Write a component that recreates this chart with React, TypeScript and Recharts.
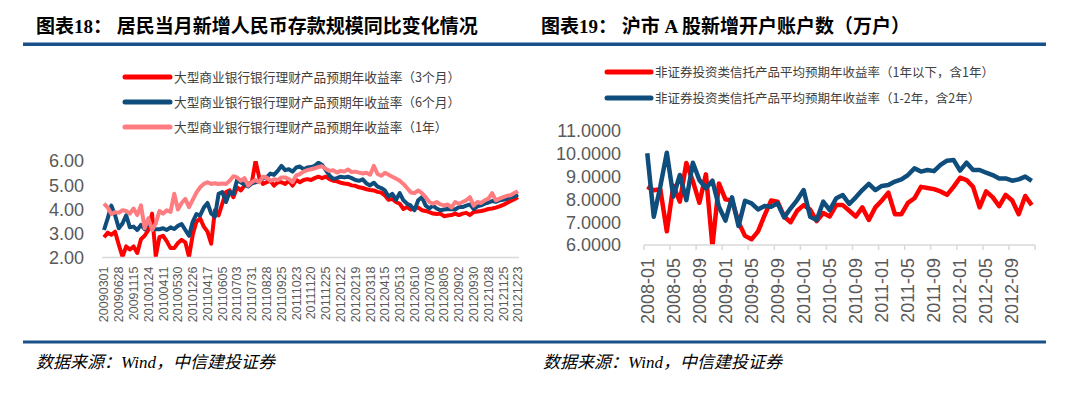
import React from 'react';
import { LineChart, Line, XAxis, YAxis } from 'recharts';

// ---------- Left chart data (weekly) ----------
const weekDates = [
  '20090301','20090329','20090426','20090531',
  '20090628','20090726','20090830','20091011',
  '20091115','20091129','20091220','20100103',
  '20100124','20100221','20100307','20100321',
  '20100411','20100425','20100502','20100516',
  '20100530','20100725','20100919','20101031',
  '20101226','20110123','20110220','20110320',
  '20110417','20110501','20110515','20110522',
  '20110605','20110612','20110619','20110626',
  '20110703','20110710','20110717','20110724',
  '20110731','20110807','20110814','20110821',
  '20110828','20110904','20110911','20110918',
  '20110925','20111002','20111009','20111016',
  '20111023','20111030','20111106','20111113',
  '20111120','20111127','20111204','20111211',
  '20111225','20120101','20120108','20120115',
  '20120122','20120129','20120205','20120212',
  '20120219','20120226','20120304','20120311',
  '20120318','20120325','20120401','20120408',
  '20120415','20120422','20120429','20120506',
  '20120513','20120520','20120527','20120603',
  '20120610','20120617','20120624','20120701',
  '20120708','20120715','20120722','20120729',
  '20120805','20120812','20120819','20120826',
  '20120902','20120909','20120916','20120923',
  '20120930','20121007','20121014','20121021',
  '20121028','20121104','20121111','20121118',
  '20121125','20121202','20121209','20121216',
  '20121223',
];

const yield3m = [
  2.84,3.03,2.94,3.07,2.53,2.03,2.46,2.33,2.46,2.19,
  2.76,2.90,3.14,3.82,2.05,2.84,2.90,2.67,2.39,2.39,
  2.60,2.73,2.63,2.03,2.94,3.48,3.62,3.28,3.07,2.57,
  3.96,3.75,4.23,4.71,4.78,4.50,4.91,4.78,4.98,5.05,
  5.12,6.00,5.32,5.05,5.12,5.18,4.98,5.12,5.12,5.05,
  5.18,4.98,5.21,5.12,5.21,5.25,5.21,5.29,5.35,5.29,
  5.35,5.25,5.18,5.16,5.10,5.07,5.05,4.99,4.97,4.91,
  4.88,4.83,4.80,4.78,4.72,4.69,4.57,4.39,4.43,4.30,
  4.23,4.01,4.09,3.99,4.04,4.07,3.96,3.93,3.88,3.82,
  3.80,3.82,3.71,3.74,3.76,3.82,3.76,3.82,3.85,3.76,
  3.88,3.91,3.93,3.96,4.01,4.03,4.07,4.12,4.18,4.26,
  4.34,4.42,4.50,
];

const yield6m = [
  3.14,3.62,4.15,3.75,3.21,3.41,3.75,3.25,3.28,3.14,
  3.35,3.17,3.44,3.21,3.17,3.17,3.21,3.14,3.25,3.18,
  3.31,3.39,3.14,2.90,3.48,3.80,3.75,4.07,4.26,3.82,
  3.69,4.64,4.71,4.30,4.71,4.64,5.21,5.12,5.02,4.94,
  5.07,5.12,5.16,5.29,5.32,5.48,5.43,5.59,5.80,5.62,
  5.66,5.56,5.73,5.77,5.66,5.73,5.75,5.80,5.93,5.84,
  5.62,5.40,5.26,5.29,5.35,5.32,5.35,5.29,5.21,5.18,
  5.24,5.07,4.99,5.10,4.94,4.88,4.78,4.53,4.64,4.39,
  4.67,4.37,4.23,4.15,3.96,4.37,4.50,4.16,4.03,4.15,
  4.03,3.96,3.99,4.01,4.00,3.99,4.09,4.09,4.15,4.20,
  4.01,4.12,4.16,4.23,4.28,4.34,4.31,4.37,4.39,4.43,
  4.50,4.53,4.61,
];

const yield1y = [
  4.23,4.07,3.80,3.88,3.85,3.96,3.93,3.82,4.03,3.76,
  4.16,3.21,3.62,3.14,3.41,3.93,3.82,3.96,3.89,4.64,
  3.99,4.26,4.43,4.09,4.39,4.69,4.91,5.05,5.12,5.05,
  5.08,5.05,5.07,5.05,5.18,5.37,5.32,5.18,5.29,4.98,
  5.12,5.21,5.12,5.35,5.32,5.18,5.24,5.21,5.32,5.32,
  5.25,5.12,5.40,5.46,5.56,5.62,5.66,5.70,5.75,5.78,
  5.67,5.59,5.62,5.52,5.59,5.56,5.65,5.54,5.56,5.52,
  5.48,5.51,5.43,5.80,5.46,5.39,5.51,5.43,5.35,5.27,
  5.18,5.05,4.88,4.69,4.67,4.78,4.67,4.50,4.30,4.23,
  4.30,4.20,4.16,4.20,4.07,4.30,4.23,4.30,4.37,4.50,
  4.15,4.30,4.26,4.37,4.44,4.67,4.37,4.44,4.50,4.56,
  4.58,4.67,4.75,
];

const leftYTicks = [2, 3, 4, 5, 6];

// ---------- Right chart data (monthly) ----------
const months = [
  '2008-01','2008-02','2008-03','2008-04','2008-05','2008-06','2008-07','2008-08','2008-09','2008-10','2008-11','2008-12',
  '2009-01','2009-02','2009-03','2009-04','2009-05','2009-06','2009-07','2009-08','2009-09','2009-10','2009-11','2009-12',
  '2010-01','2010-02','2010-03','2010-04','2010-05','2010-06','2010-07','2010-08','2010-09','2010-10','2010-11','2010-12',
  '2011-01','2011-02','2011-03','2011-04','2011-05','2011-06','2011-07','2011-08','2011-09','2011-10','2011-11','2011-12',
  '2012-01','2012-02','2012-03','2012-04','2012-05','2012-06','2012-07','2012-08','2012-09','2012-10','2012-11','2012-12',
];

const trustShort = [
  8.55,8.40,8.45,6.60,8.60,7.90,9.60,8.80,7.85,9.10,
  5.95,8.70,8.00,7.95,7.00,6.40,6.25,6.60,7.30,7.95,
  7.90,7.25,7.00,7.50,7.75,7.55,7.05,7.40,7.25,7.75,
  7.75,7.50,7.25,7.65,7.10,7.65,7.95,8.30,7.35,7.35,
  7.85,8.05,8.55,8.50,8.45,8.35,8.20,8.55,8.95,8.85,
  8.55,7.65,8.35,8.10,7.70,8.20,7.95,7.35,8.15,7.75,
];

const trustMid = [
  10.02,7.24,8.56,10.05,8.12,9.07,7.97,9.61,8.85,8.49,
  8.82,7.68,7.07,8.09,6.83,7.94,7.83,7.56,7.71,7.68,
  7.83,7.21,7.61,7.97,8.41,7.24,7.10,7.90,7.53,8.05,
  8.19,7.80,8.09,8.41,8.68,8.41,8.59,8.63,8.78,8.88,
  9.07,9.36,9.22,9.29,9.24,9.51,9.70,9.73,9.26,9.61,
  9.29,9.29,9.17,9.07,8.92,8.92,8.82,8.88,9.00,8.81,
];

const rightYTicks = [6, 7, 8, 9, 10, 11];

// ---------- Series config ----------
const leftSeries = [
  { key: 'r3', name: '大型商业银行银行理财产品预期年收益率（3个月）', color: '#FF0000' },
  { key: 'r6', name: '大型商业银行银行理财产品预期年收益率（6个月）', color: '#0E4D7C' },
  { key: 'r12', name: '大型商业银行银行理财产品预期年收益率（1年）', color: '#FF7C80' },
];
const rightSeries = [
  { key: 's', name: '非证券投资类信托产品平均预期年收益率（1年以下，含1年）', color: '#FF0000' },
  { key: 'm', name: '非证券投资类信托产品平均预期年收益率（1-2年，含2年）', color: '#0E4D7C' },
];

const leftData = weekDates.map((d, i) => ({ date: d, r3: yield3m[i], r6: yield6m[i], r12: yield1y[i] }));
const rightData = months.map((m, i) => ({ month: m, s: trustShort[i], m: trustMid[i] }));

const AXIS_GRAY = '#D9D9D9';
const TEXT_GRAY = '#595959';
const NUM_FONT = "'Liberation Sans', Arial, sans-serif";
const CJK_FONT = "'Noto Sans CJK SC', sans-serif";
const RULE = '#1A5089';

// layout of right chart plot
const R_MARGIN = { top: 131, right: 45, bottom: 68, left: 34 };
const R_YW = 70;
const R_W = 540;
const R_PLOT_W = R_W - R_MARGIN.left - R_MARGIN.right - R_YW;
const R_TICK_GAP = 13;

const LeftXTick = (props: any) => {
  const { x, y, payload } = props;
  return (
    <text x={x} y={y} transform={`rotate(-90, ${x}, ${y})`} textAnchor="end" dy="0.35em"
      fontSize={12.5} fill={TEXT_GRAY} fontFamily={NUM_FONT}>
      {payload.value}
    </text>
  );
};

const RightXTick = (props: any) => {
  const { x, y, payload } = props;
  const bw = R_PLOT_W / months.length;
  const axisY = y - R_TICK_GAP;
  const left = x - bw / 2;
  const marks = [left];
  if (payload.value === months[months.length - 4]) marks.push(left + 4 * bw);
  return (
    <g>
      {marks.map((mx, i) => (
        <line key={i} x1={mx} x2={mx} y1={axisY} y2={axisY + 5} stroke={AXIS_GRAY} strokeWidth={1.5} />
      ))}
      <text x={x} y={y} transform={`rotate(-90, ${x}, ${y})`} textAnchor="end" dy="0.35em"
        fontSize={18} fill={TEXT_GRAY} fontFamily={NUM_FONT}>
        {payload.value}
      </text>
    </g>
  );
};

const FOOT_FONT = "'Liberation Serif', 'Noto Sans CJK SC', serif";

const Overlay = () => (
  <svg width={1080} height={393} style={{ position: 'absolute', left: 0, top: 0 }}>
    <text x={36} y={33} fontSize={19} fontWeight="bold" fill="#000"
      fontFamily={FOOT_FONT} style={{ whiteSpace: 'pre' }}>
      {'图表18： 居民当月新增人民币存款规模同比变化情况'}
    </text>
    <text x={541} y={33} fontSize={19} fontWeight="bold" fill="#000"
      fontFamily={FOOT_FONT} style={{ whiteSpace: 'pre' }}>
      {'图表19： 沪市 A 股新增开户账户数（万户）'}
    </text>
    <rect x={23} y={42.5} width={1023} height={3.5} fill={RULE} />
    <rect x={23} y={340.5} width={1023} height={3} fill={RULE} />
    <text x={36} y={368} fontSize={17} fontStyle="italic" fill="#000" fontFamily={FOOT_FONT}>
      数据来源：Wind，中信建投证券
    </text>
    <text x={543} y={368} fontSize={17} fontStyle="italic" fill="#000" fontFamily={FOOT_FONT}>
      数据来源：Wind，中信建投证券
    </text>
    {leftSeries.map((s, i) => (
      <g key={s.key}>
        <line x1={125} x2={170} y1={77 + i * 25} y2={77 + i * 25} stroke={s.color} strokeWidth={5} strokeLinecap="round" />
        <text x={174} y={77 + i * 25} dy="0.36em" fontSize={12.7} fill="#404040" fontFamily={CJK_FONT}>{s.name}</text>
      </g>
    ))}
    {rightSeries.map((s, i) => (
      <g key={s.key}>
        <line x1={607} x2={651} y1={72 + i * 26} y2={72 + i * 26} stroke={s.color} strokeWidth={5} strokeLinecap="round" />
        <text x={655} y={72 + i * 26} dy="0.36em" fontSize={12.5} fill="#404040" fontFamily={CJK_FONT}>{s.name}</text>
      </g>
    ))}
  </svg>
);

export default function App() {
  return (
    <div style={{ position: 'absolute', left: 0, top: 0, width: 1080, height: 393, background: '#fff', overflow: 'hidden' }}>
      <div style={{ position: 'absolute', left: 0, top: 0 }}>
        <LineChart width={540} height={393} data={leftData}
          margin={{ top: 161, right: 21, bottom: 65.5, left: 42 }}>
          <XAxis dataKey="date" interval={3} tickLine={false} tickSize={0} tickMargin={9}
            axisLine={{ stroke: AXIS_GRAY, strokeWidth: 1.5 }} tick={<LeftXTick />} height={70}
            padding={{ left: 2, right: 1 }} />
          <YAxis type="number" domain={[2, 6]} ticks={leftYTicks} interval={0} allowDataOverflow width={60}
            axisLine={false} tickLine={false} tickSize={0} tickMargin={18}
            tick={{ fontSize: 18, fill: TEXT_GRAY, fontFamily: NUM_FONT }}
            tickFormatter={(v: number) => v.toFixed(2)} />
          {leftSeries.map((s) => (
            <Line key={s.key} type="linear" dataKey={s.key} name={s.name} stroke={s.color} strokeWidth={4}
              dot={false} activeDot={false} isAnimationActive={false} strokeLinejoin="round" />
          ))}
        </LineChart>
      </div>
      <div style={{ position: 'absolute', left: 540, top: 0 }}>
        <LineChart width={R_W} height={393} data={rightData} margin={R_MARGIN}>
          <XAxis dataKey="month" scale="band" interval={3} tickLine={false} tickSize={0} tickMargin={R_TICK_GAP}
            axisLine={{ stroke: AXIS_GRAY, strokeWidth: 1.5 }} tick={<RightXTick />} height={80} />
          <YAxis type="number" domain={[6, 11]} ticks={rightYTicks} interval={0} allowDataOverflow width={R_YW}
            axisLine={false} tickLine={false} tickSize={0} tickMargin={23}
            tick={{ fontSize: 18, fill: TEXT_GRAY, fontFamily: NUM_FONT }}
            tickFormatter={(v: number) => v.toFixed(4)} />
          {rightSeries.map((s) => (
            <Line key={s.key} type="linear" dataKey={s.key} name={s.name} stroke={s.color} strokeWidth={4.5}
              dot={false} activeDot={false} isAnimationActive={false} strokeLinejoin="round" />
          ))}
        </LineChart>
      </div>
      <Overlay />
    </div>
  );
}
